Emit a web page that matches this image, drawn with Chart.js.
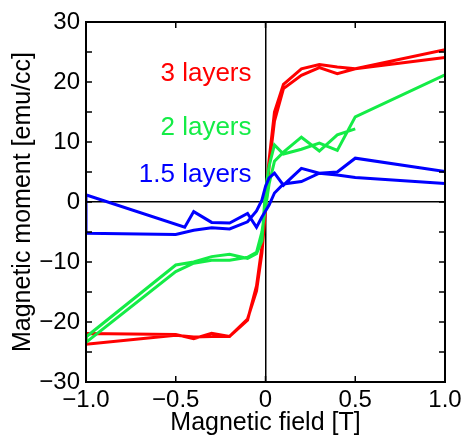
<!DOCTYPE html>
<html>
<head>
<meta charset="utf-8">
<script src="https://cdn.jsdelivr.net/npm/chart.js@4.4.0/dist/chart.umd.min.js"></script>
<style>
  html, body { margin: 0; padding: 0; background: #fff; }
  #wrap { width: 466px; height: 439px; }
</style>
</head>
<body>
<div id="wrap"><canvas id="mh-chart" width="466" height="439"></canvas></div>
<script>
// campo barrido de +1 a -1 y de vuelta (T)
const redFieldDown = [1.0, 0.5, 0.4, 0.3, 0.2, 0.1, 0.05, 0.02, 0, -0.02, -0.05, -0.1, -0.2, -0.3, -0.4, -0.5, -1.0];
const redMomentDown = [25.4, 22.2, 22.5, 22.9, 22.2, 19.6, 15.0, 7.0, 0.5, -7.5, -14.0, -19.7, -22.4, -21.9, -22.8, -22.1, -21.9];
const redFieldUp = [-1.0, -0.5, -0.4, -0.3, -0.2, -0.1, -0.05, -0.02, 0, 0.02, 0.05, 0.1, 0.2, 0.3, 0.4, 0.5, 1.0];
const redMomentUp = [-23.7, -22.2, -22.5, -22.4, -22.4, -19.5, -14.8, -8.5, -1.5, 6.0, 13.5, 18.9, 21.1, 22.4, 21.4, 22.2, 24.1];

const greenFieldDown = [1.0, 0.5, 0.4, 0.3, 0.2, 0.1, 0.05, 0.02, 0, -0.02, -0.05, -0.1, -0.2, -0.3, -0.4, -0.5, -1.0];
const greenMomentDown = [21.2, 14.2, 8.6, 9.8, 8.8, 8.0, 9.5, 6.0, 2.0, -6.5, -8.6, -9.4, -8.7, -9.1, -10.0, -10.5, -22.5];
const greenFieldUp = [-1.0, -0.5, -0.4, -0.3, -0.2, -0.1, -0.05, -0.02, 0, 0.02, 0.05, 0.1, 0.2, 0.3, 0.4, 0.5];
const greenMomentUp = [-23.4, -11.6, -10.2, -9.7, -9.7, -9.2, -8.4, -5.0, -1.0, 3.0, 6.8, 8.3, 10.8, 8.5, 11.2, 12.2];

const blueFieldDown = [1.0, 0.5, 0.4, 0.3, 0.2, 0.1, 0.05, 0.02, 0, -0.02, -0.05, -0.1, -0.2, -0.3, -0.4, -0.45, -1.0];
const blueMomentDown = [5.1, 7.3, 5.0, 4.8, 3.4, 3.0, 1.5, -0.5, -1.5, -2.5, -4.2, -1.9, -3.5, -3.4, -1.6, -4.2, 1.2];
const blueFieldUp = [-1.0, -0.5, -0.4, -0.3, -0.2, -0.1, -0.05, -0.02, 0, 0.02, 0.05, 0.1, 0.2, 0.3, 0.4, 0.5, 1.0];
const blueMomentUp = [-5.2, -5.4, -4.7, -4.3, -4.5, -3.3, -1.5, 0.3, 2.6, 4.0, 4.8, 2.8, 5.6, 4.8, 4.5, 4.1, 3.1];

const seriesNames = ['3 layers', '2 layers', '1.5 layers'];
const xTickValues = [-1.0, -0.5, 0, 0.5, 1.0];
const xTickLabels = ['\u22121.0', '\u22120.5', '0', '0.5', '1.0'];
const yTickValues = [-30, -20, -10, 0, 10, 20, 30];
const yTickLabels = ['\u221230', '\u221220', '\u221210', '0', '10', '20', '30'];

const FONT = 'Liberation Sans, Arial, Helvetica, sans-serif';
const RED = '#ff0000';
const GREEN = '#14ec46';
const BLUE = '#0000ff';

function lazo(fDown, mDown, fUp, mUp) {
    const pts = [];
    fDown.forEach((f, i) => pts.push({ x: f, y: mDown[i] }));
    fUp.forEach((f, i) => pts.push({ x: f, y: mUp[i] }));
    return pts;
}

function etiqueta(lista, valores, v) {
    const i = valores.findIndex(t => Math.abs(t - v) < 1e-9);
    return i >= 0 ? lista[i] : '';
}

// marco, ticks hacia dentro y textos de las series
const marcoPlugin = {
    id: 'marco',
    afterDatasetsDraw(chart) {
        const { ctx, chartArea: a, scales } = chart;
        const xs = scales.x, ys = scales.y;
        ctx.save();
        ctx.strokeStyle = '#000';
        ctx.lineWidth = 1.5;
        ctx.beginPath();
        xs.ticks.forEach(t => {
            const px = xs.getPixelForValue(t.value);
            ctx.moveTo(px, a.bottom); ctx.lineTo(px, a.bottom - 6);
            ctx.moveTo(px, a.top); ctx.lineTo(px, a.top + 6);
        });
        ys.ticks.forEach(t => {
            const py = ys.getPixelForValue(t.value);
            ctx.moveTo(a.left, py); ctx.lineTo(a.left + 6, py);
            ctx.moveTo(a.right, py); ctx.lineTo(a.right - 6, py);
        });
        ctx.stroke();
        ctx.lineWidth = 2;
        ctx.strokeRect(a.left, a.top, a.right - a.left, a.bottom - a.top);

        const textos = [
            { txt: seriesNames[0], color: RED, x: -0.078, y: 20.1 },
            { txt: seriesNames[1], color: GREEN, x: -0.078, y: 11.2 },
            { txt: seriesNames[2], color: BLUE, x: -0.078, y: 3.4 }
        ];
        ctx.font = '26px ' + FONT;
        ctx.textAlign = 'right';
        ctx.textBaseline = 'alphabetic';
        textos.forEach(t => {
            ctx.fillStyle = t.color;
            ctx.fillText(t.txt, xs.getPixelForValue(t.x), ys.getPixelForValue(t.y));
        });
        ctx.restore();
    }
};

function crearGrafico() {
    const canvas = document.getElementById('mh-chart');
    const lineaCero = c => (c.tick && c.tick.value === 0) ? '#000' : 'rgba(0,0,0,0)';
    new Chart(canvas, {
        type: 'scatter',
        data: {
            datasets: [
                { label: seriesNames[2], data: lazo(blueFieldDown, blueMomentDown, blueFieldUp, blueMomentUp), borderColor: BLUE },
                { label: seriesNames[1], data: lazo(greenFieldDown, greenMomentDown, greenFieldUp, greenMomentUp), borderColor: GREEN },
                { label: seriesNames[0], data: lazo(redFieldDown, redMomentDown, redFieldUp, redMomentUp), borderColor: RED }
            ].map(d => Object.assign(d, { showLine: true, pointRadius: 0, borderWidth: 3, fill: false, tension: 0 }))
        },
        options: {
            responsive: false,
            animation: false,
            devicePixelRatio: 1,
            layout: { padding: { top: 22, right: 21, left: 0, bottom: 0 } },
            plugins: { legend: { display: false }, tooltip: { enabled: false } },
            scales: {
                x: {
                    type: 'linear', min: -1, max: 1,
                    afterBuildTicks: s => { s.ticks = xTickValues.map(v => ({ value: v })); },
                    afterFit: s => { s.height = 57; },
                    grid: { color: lineaCero, lineWidth: 1.5, drawTicks: false },
                    border: { display: false },
                    ticks: {
                        autoSkip: false, maxRotation: 0, padding: 4, color: '#000',
                        font: { family: FONT, size: 24 },
                        callback: v => etiqueta(xTickLabels, xTickValues, v)
                    },
                    title: {
                        display: true, text: 'Magnetic field [T]', color: '#000',
                        font: { family: FONT, size: 25 }, padding: { top: 0, bottom: 1 }
                    }
                },
                y: {
                    type: 'linear', min: -30, max: 30,
                    ticks: {
                        stepSize: 5, autoSkip: false, padding: 6, color: '#000',
                        font: { family: FONT, size: 24 },
                        callback: v => etiqueta(yTickLabels, yTickValues, v)
                    },
                    afterFit: s => { s.width = 86; },
                    grid: { color: lineaCero, lineWidth: 1.5, drawTicks: false },
                    border: { display: false },
                    title: {
                        display: true, text: 'Magnetic moment [emu/cc]', color: '#000',
                        font: { family: FONT, size: 25 }, padding: { top: 8, bottom: 0 }
                    }
                }
            }
        },
        plugins: [marcoPlugin]
    });
}

crearGrafico();
</script>
</body>
</html>
